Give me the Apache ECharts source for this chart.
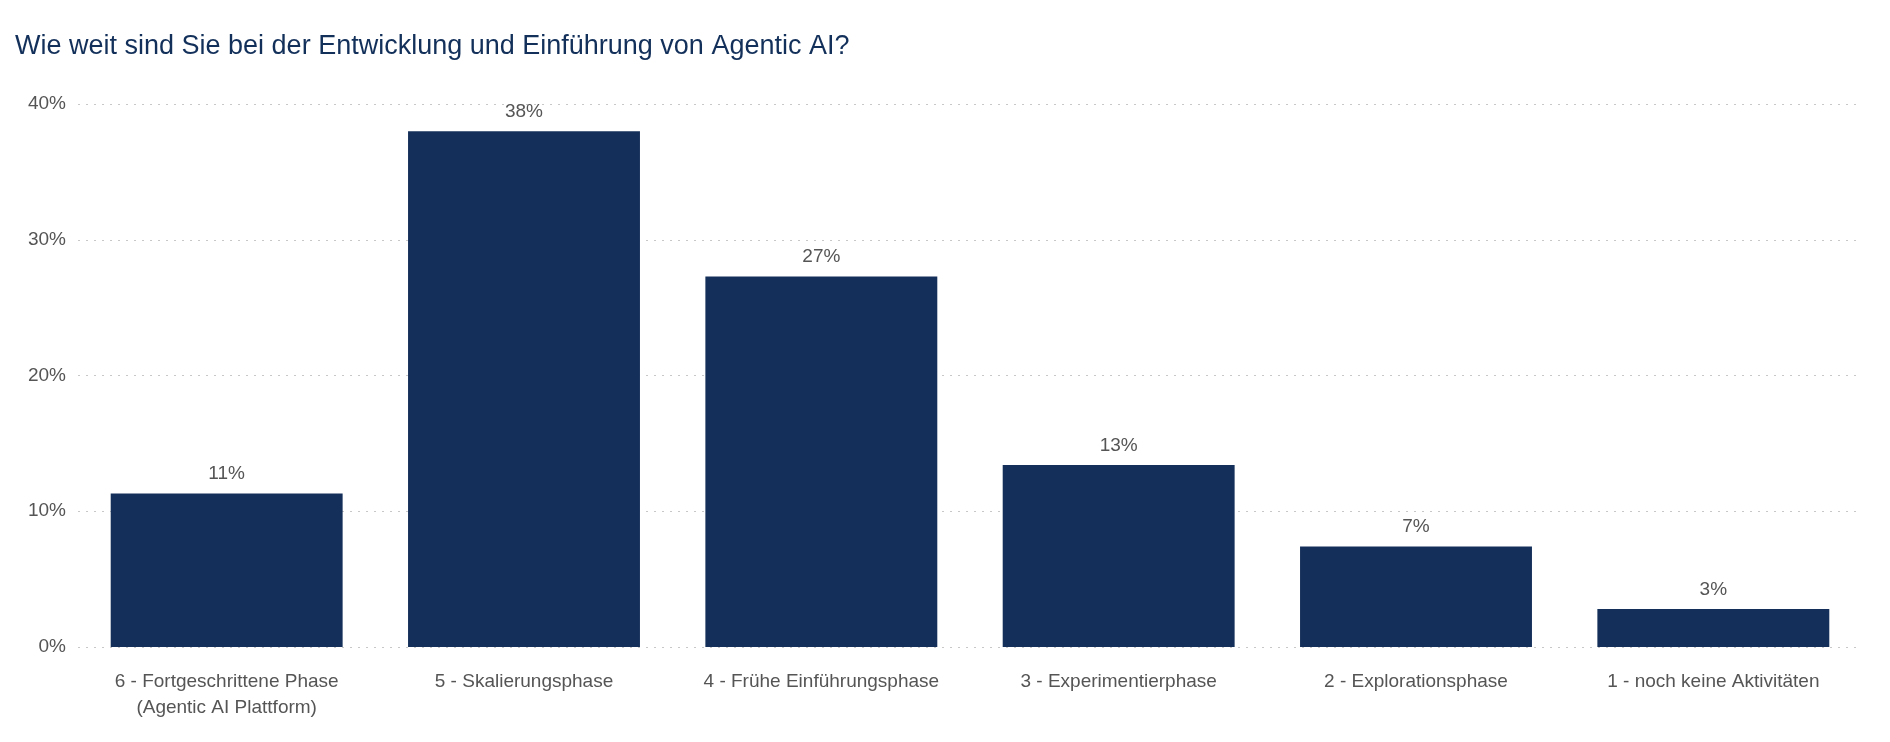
<!DOCTYPE html>
<html><head><meta charset="utf-8">
<script src="https://cdn.jsdelivr.net/npm/echarts@6/dist/echarts.min.js"></script>
<style>html,body{margin:0;background:#fff}#c{width:1890px;height:742px}</style>
</head><body><div id="c"></div>
<script>
var categories = ['6 - Fortgeschrittene Phase\n(Agentic AI Plattform)', '5 - Skalierungsphase', '4 - Frühe Einführungsphase', '3 - Experimentierphase', '2 - Explorationsphase', '1 - noch keine Aktivitäten'];
var shares = [11.3, 38.0, 27.3, 13.4, 7.4, 2.8];

var chart = echarts.init(document.getElementById('c'));
chart.setOption({
    textStyle: { fontFamily: 'Liberation Sans, Arial, sans-serif' },
    title: {
        text: 'Wie weit sind Sie bei der Entwicklung und Einführung von Agentic AI?',
        left: 10, top: 28,
        textStyle: { fontSize: 27, fontWeight: 'normal', color: '#13305a' }
    },
    grid: { left: 78, right: 28, top: 104, bottom: 95 },
    xAxis: {
        type: 'category', data: categories,
        axisLine: { show: false }, axisTick: { show: false },
        axisLabel: { color: '#555', fontSize: 19, margin: 22, lineHeight: 26, interval: 0 }
    },
    yAxis: {
        type: 'value', min: 0, max: 40, interval: 10,
        axisLabel: { formatter: '{value}%', color: '#555', fontSize: 19, margin: 12 },
        splitLine: { lineStyle: { type: [2, 6], color: '#c8c8c8' } }
    },
    series: [{
        type: 'bar', data: shares, barCategoryGap: '22%',
        itemStyle: { color: '#142f59' },
        label: {
            show: true, position: 'top', distance: 10, color: '#555', fontSize: 19,
            formatter: function (p) { return Math.round(p.value) + '%'; }
        }
    }]
});
</script></body></html>
